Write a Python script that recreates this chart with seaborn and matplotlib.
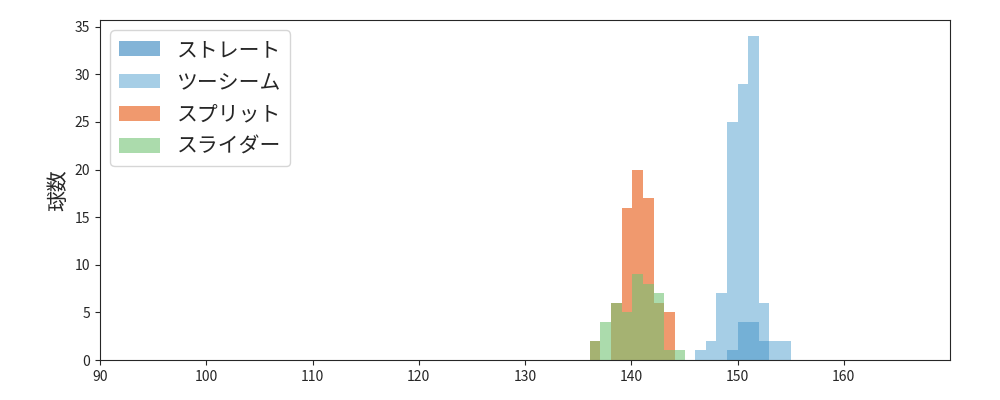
import matplotlib
matplotlib.use("Agg")
import matplotlib.pyplot as plt
import seaborn as sns
import numpy as np
import pandas as pd

# bin left edges and counts per pitch type (bin width 1 km/h)
straight_left = [149, 150, 151, 152]
straight_cnt = [1, 4, 4, 2]
twoseam_left = [146, 147, 148, 149, 150, 151, 152, 153, 154]
twoseam_cnt = [1, 2, 7, 25, 29, 34, 6, 2, 2]
split_left = [136.1, 137.1, 138.1, 139.1, 140.1, 141.1, 142.1, 143.1]
split_cnt = [2, 0, 6, 16, 20, 17, 6, 5]
slider_left = [136.1, 137.1, 138.1, 139.1, 140.1, 141.1, 142.1, 143.1, 144.1]
slider_cnt = [2, 4, 6, 5, 9, 8, 7, 1, 1]

labels = ["ストレート", "ツーシーム", "スプリット", "スライダー"]
colors = ["#3182bd", "#6baed6", "#e6550d", "#74c476"]

sns.set_style("ticks")
plt.rcParams['font.family'] = ['Noto Sans CJK JP', 'DejaVu Sans']

fig, ax = plt.subplots(figsize=(10, 4), dpi=100)
series = [(straight_left, straight_cnt), (twoseam_left, twoseam_cnt),
          (split_left, split_cnt), (slider_left, slider_cnt)]
for (left, cnt), lab, col in zip(series, labels, colors):
    left = np.array(left, dtype=float)
    edges = list(np.append(left, left[-1] + 1))
    df = pd.DataFrame({"speed": left + 0.5, "n": cnt})
    sns.histplot(data=df, x="speed", weights="n", bins=edges, ax=ax, color=col,
                 alpha=0.6, element="bars", edgecolor="none", linewidth=0,
                 label=lab)

ax.set_xlim(90, 170)
ax.set_ylim(0, 35.7)
ax.set_xticks(range(90, 170, 10))
ax.set_yticks(range(0, 36, 5))
ax.set_ylabel("球数", fontsize=15)
ax.set_xlabel("")
ax.tick_params(labelsize=10)
ax.legend(loc="upper left", fontsize=15)
fig.subplots_adjust(left=0.1, right=0.95, top=0.95, bottom=0.1)
fig.savefig("out.png")
